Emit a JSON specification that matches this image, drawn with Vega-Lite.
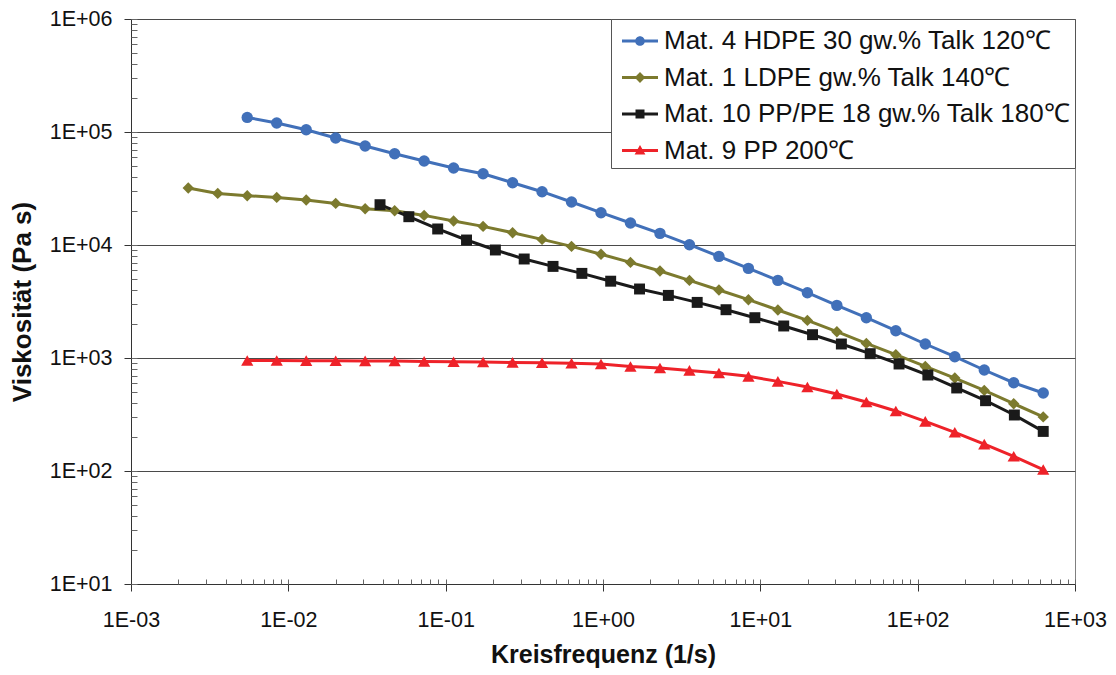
{
  "$schema": "https://vega.github.io/schema/vega-lite/v6.json",
  "width": 944,
  "height": 565,
  "autosize": {"type": "none"},
  "padding": {"left": 131, "top": 19, "right": 41, "bottom": 91},
  "background": "white",
  "config": {
    "font": "Liberation Sans",
    "view": {"stroke": "#808080", "strokeWidth": 1},
    "axis": {"labelColor": "#111", "titleColor": "#111", "domainColor": "#333", "tickColor": "#333", "labelFont": "Liberation Sans", "titleFont": "Liberation Sans"},
    "legend": {"orient": "top-right", "offset": 0, "title": null,
      "labelFontSize": 26, "labelFont": "Liberation Sans", "labelColor": "#111", "labelLimit": 600,
      "symbolSize": 1296, "rowPadding": 5.5, "padding": 4, "labelOffset": 6, "symbolOffset": 7,
      "strokeColor": "#555", "fillColor": "white"}
  },
  "data": {"values": [
    {"series": "Mat. 4 HDPE 30 gw.% Talk 120℃", "w": 0.00548, "eta": 134600},
    {"series": "Mat. 4 HDPE 30 gw.% Talk 120℃", "w": 0.008437, "eta": 120100},
    {"series": "Mat. 4 HDPE 30 gw.% Talk 120℃", "w": 0.01299, "eta": 104800},
    {"series": "Mat. 4 HDPE 30 gw.% Talk 120℃", "w": 0.02, "eta": 88500},
    {"series": "Mat. 4 HDPE 30 gw.% Talk 120℃", "w": 0.03078, "eta": 75160},
    {"series": "Mat. 4 HDPE 30 gw.% Talk 120℃", "w": 0.04739, "eta": 64270},
    {"series": "Mat. 4 HDPE 30 gw.% Talk 120℃", "w": 0.07295, "eta": 55380},
    {"series": "Mat. 4 HDPE 30 gw.% Talk 120℃", "w": 0.1123, "eta": 48030},
    {"series": "Mat. 4 HDPE 30 gw.% Talk 120℃", "w": 0.1729, "eta": 42760},
    {"series": "Mat. 4 HDPE 30 gw.% Talk 120℃", "w": 0.2662, "eta": 35590},
    {"series": "Mat. 4 HDPE 30 gw.% Talk 120℃", "w": 0.4098, "eta": 29630},
    {"series": "Mat. 4 HDPE 30 gw.% Talk 120℃", "w": 0.6308, "eta": 24020},
    {"series": "Mat. 4 HDPE 30 gw.% Talk 120℃", "w": 0.9712, "eta": 19310},
    {"series": "Mat. 4 HDPE 30 gw.% Talk 120℃", "w": 1.495, "eta": 15660},
    {"series": "Mat. 4 HDPE 30 gw.% Talk 120℃", "w": 2.302, "eta": 12670},
    {"series": "Mat. 4 HDPE 30 gw.% Talk 120℃", "w": 3.543, "eta": 10060},
    {"series": "Mat. 4 HDPE 30 gw.% Talk 120℃", "w": 5.456, "eta": 7928},
    {"series": "Mat. 4 HDPE 30 gw.% Talk 120℃", "w": 8.4, "eta": 6208},
    {"series": "Mat. 4 HDPE 30 gw.% Talk 120℃", "w": 12.93, "eta": 4862},
    {"series": "Mat. 4 HDPE 30 gw.% Talk 120℃", "w": 19.91, "eta": 3784},
    {"series": "Mat. 4 HDPE 30 gw.% Talk 120℃", "w": 30.65, "eta": 2921},
    {"series": "Mat. 4 HDPE 30 gw.% Talk 120℃", "w": 47.18, "eta": 2273},
    {"series": "Mat. 4 HDPE 30 gw.% Talk 120℃", "w": 72.63, "eta": 1744},
    {"series": "Mat. 4 HDPE 30 gw.% Talk 120℃", "w": 111.8, "eta": 1330},
    {"series": "Mat. 4 HDPE 30 gw.% Talk 120℃", "w": 172.2, "eta": 1027},
    {"series": "Mat. 4 HDPE 30 gw.% Talk 120℃", "w": 265, "eta": 783},
    {"series": "Mat. 4 HDPE 30 gw.% Talk 120℃", "w": 407.8, "eta": 604},
    {"series": "Mat. 4 HDPE 30 gw.% Talk 120℃", "w": 628.1, "eta": 490},

    {"series": "Mat. 1 LDPE gw.% Talk 140℃", "w": 0.002312, "eta": 31960},
    {"series": "Mat. 1 LDPE gw.% Talk 140℃", "w": 0.003559, "eta": 28620},
    {"series": "Mat. 1 LDPE gw.% Talk 140℃", "w": 0.00548, "eta": 27310},
    {"series": "Mat. 1 LDPE gw.% Talk 140℃", "w": 0.008437, "eta": 26380},
    {"series": "Mat. 1 LDPE gw.% Talk 140℃", "w": 0.01299, "eta": 25010},
    {"series": "Mat. 1 LDPE gw.% Talk 140℃", "w": 0.02, "eta": 23340},
    {"series": "Mat. 1 LDPE gw.% Talk 140℃", "w": 0.03078, "eta": 20950},
    {"series": "Mat. 1 LDPE gw.% Talk 140℃", "w": 0.04739, "eta": 20120},
    {"series": "Mat. 1 LDPE gw.% Talk 140℃", "w": 0.07295, "eta": 18280},
    {"series": "Mat. 1 LDPE gw.% Talk 140℃", "w": 0.1123, "eta": 16310},
    {"series": "Mat. 1 LDPE gw.% Talk 140℃", "w": 0.1729, "eta": 14610},
    {"series": "Mat. 1 LDPE gw.% Talk 140℃", "w": 0.2662, "eta": 12850},
    {"series": "Mat. 1 LDPE gw.% Talk 140℃", "w": 0.4098, "eta": 11210},
    {"series": "Mat. 1 LDPE gw.% Talk 140℃", "w": 0.6308, "eta": 9719},
    {"series": "Mat. 1 LDPE gw.% Talk 140℃", "w": 0.9712, "eta": 8290},
    {"series": "Mat. 1 LDPE gw.% Talk 140℃", "w": 1.495, "eta": 7015},
    {"series": "Mat. 1 LDPE gw.% Talk 140℃", "w": 2.302, "eta": 5888},
    {"series": "Mat. 1 LDPE gw.% Talk 140℃", "w": 3.543, "eta": 4862},
    {"series": "Mat. 1 LDPE gw.% Talk 140℃", "w": 5.456, "eta": 3998},
    {"series": "Mat. 1 LDPE gw.% Talk 140℃", "w": 8.4, "eta": 3281},
    {"series": "Mat. 1 LDPE gw.% Talk 140℃", "w": 12.93, "eta": 2659},
    {"series": "Mat. 1 LDPE gw.% Talk 140℃", "w": 19.91, "eta": 2151},
    {"series": "Mat. 1 LDPE gw.% Talk 140℃", "w": 30.65, "eta": 1709},
    {"series": "Mat. 1 LDPE gw.% Talk 140℃", "w": 47.18, "eta": 1346},
    {"series": "Mat. 1 LDPE gw.% Talk 140℃", "w": 72.63, "eta": 1070},
    {"series": "Mat. 1 LDPE gw.% Talk 140℃", "w": 111.8, "eta": 842},
    {"series": "Mat. 1 LDPE gw.% Talk 140℃", "w": 172.2, "eta": 665},
    {"series": "Mat. 1 LDPE gw.% Talk 140℃", "w": 265, "eta": 517},
    {"series": "Mat. 1 LDPE gw.% Talk 140℃", "w": 407.8, "eta": 394},
    {"series": "Mat. 1 LDPE gw.% Talk 140℃", "w": 628.1, "eta": 301},

    {"series": "Mat. 10 PP/PE 18 gw.% Talk 180℃", "w": 0.03826, "eta": 22730},
    {"series": "Mat. 10 PP/PE 18 gw.% Talk 180℃", "w": 0.05834, "eta": 17800},
    {"series": "Mat. 10 PP/PE 18 gw.% Talk 180℃", "w": 0.08898, "eta": 13860},
    {"series": "Mat. 10 PP/PE 18 gw.% Talk 180℃", "w": 0.1357, "eta": 11070},
    {"series": "Mat. 10 PP/PE 18 gw.% Talk 180℃", "w": 0.207, "eta": 9034},
    {"series": "Mat. 10 PP/PE 18 gw.% Talk 180℃", "w": 0.3156, "eta": 7518},
    {"series": "Mat. 10 PP/PE 18 gw.% Talk 180℃", "w": 0.4813, "eta": 6466},
    {"series": "Mat. 10 PP/PE 18 gw.% Talk 180℃", "w": 0.734, "eta": 5608},
    {"series": "Mat. 10 PP/PE 18 gw.% Talk 180℃", "w": 1.119, "eta": 4783},
    {"series": "Mat. 10 PP/PE 18 gw.% Talk 180℃", "w": 1.707, "eta": 4080},
    {"series": "Mat. 10 PP/PE 18 gw.% Talk 180℃", "w": 2.603, "eta": 3581},
    {"series": "Mat. 10 PP/PE 18 gw.% Talk 180℃", "w": 3.969, "eta": 3105},
    {"series": "Mat. 10 PP/PE 18 gw.% Talk 180℃", "w": 6.053, "eta": 2675},
    {"series": "Mat. 10 PP/PE 18 gw.% Talk 180℃", "w": 9.232, "eta": 2273},
    {"series": "Mat. 10 PP/PE 18 gw.% Talk 180℃", "w": 14.08, "eta": 1920},
    {"series": "Mat. 10 PP/PE 18 gw.% Talk 180℃", "w": 21.47, "eta": 1608},
    {"series": "Mat. 10 PP/PE 18 gw.% Talk 180℃", "w": 32.74, "eta": 1330},
    {"series": "Mat. 10 PP/PE 18 gw.% Talk 180℃", "w": 49.94, "eta": 1092},
    {"series": "Mat. 10 PP/PE 18 gw.% Talk 180℃", "w": 76.16, "eta": 885},
    {"series": "Mat. 10 PP/PE 18 gw.% Talk 180℃", "w": 116.1, "eta": 707},
    {"series": "Mat. 10 PP/PE 18 gw.% Talk 180℃", "w": 177.1, "eta": 543},
    {"series": "Mat. 10 PP/PE 18 gw.% Talk 180℃", "w": 270.1, "eta": 419},
    {"series": "Mat. 10 PP/PE 18 gw.% Talk 180℃", "w": 411.7, "eta": 313},
    {"series": "Mat. 10 PP/PE 18 gw.% Talk 180℃", "w": 628.1, "eta": 224},

    {"series": "Mat. 9 PP 200℃", "w": 0.00548, "eta": 950},
    {"series": "Mat. 9 PP 200℃", "w": 0.008437, "eta": 949},
    {"series": "Mat. 9 PP 200℃", "w": 0.01299, "eta": 947},
    {"series": "Mat. 9 PP 200℃", "w": 0.02, "eta": 945},
    {"series": "Mat. 9 PP 200℃", "w": 0.03078, "eta": 943},
    {"series": "Mat. 9 PP 200℃", "w": 0.04739, "eta": 941},
    {"series": "Mat. 9 PP 200℃", "w": 0.07295, "eta": 933},
    {"series": "Mat. 9 PP 200℃", "w": 0.1123, "eta": 927},
    {"series": "Mat. 9 PP 200℃", "w": 0.1729, "eta": 921},
    {"series": "Mat. 9 PP 200℃", "w": 0.2662, "eta": 914},
    {"series": "Mat. 9 PP 200℃", "w": 0.4098, "eta": 908},
    {"series": "Mat. 9 PP 200℃", "w": 0.6308, "eta": 898},
    {"series": "Mat. 9 PP 200℃", "w": 0.9712, "eta": 885},
    {"series": "Mat. 9 PP 200℃", "w": 1.495, "eta": 842},
    {"series": "Mat. 9 PP 200℃", "w": 2.302, "eta": 816},
    {"series": "Mat. 9 PP 200℃", "w": 3.543, "eta": 777},
    {"series": "Mat. 9 PP 200℃", "w": 5.456, "eta": 737},
    {"series": "Mat. 9 PP 200℃", "w": 8.4, "eta": 688},
    {"series": "Mat. 9 PP 200℃", "w": 12.93, "eta": 621},
    {"series": "Mat. 9 PP 200℃", "w": 19.91, "eta": 554},
    {"series": "Mat. 9 PP 200℃", "w": 30.65, "eta": 480},
    {"series": "Mat. 9 PP 200℃", "w": 47.18, "eta": 408},
    {"series": "Mat. 9 PP 200℃", "w": 72.63, "eta": 340},
    {"series": "Mat. 9 PP 200℃", "w": 111.8, "eta": 275},
    {"series": "Mat. 9 PP 200℃", "w": 172.2, "eta": 220},
    {"series": "Mat. 9 PP 200℃", "w": 265, "eta": 173},
    {"series": "Mat. 9 PP 200℃", "w": 407.8, "eta": 135},
    {"series": "Mat. 9 PP 200℃", "w": 628.1, "eta": 103}
  ]},
  "layer": [
    {
      "encoding": {
        "x": {"field": "w", "type": "quantitative",
          "scale": {"type": "log", "domain": [0.001, 1000], "nice": false},
          "axis": {"orient": "bottom", "values": [0.001, 0.01, 0.1, 1, 10, 100, 1000],
            "labelExpr": "'1E' + (datum.value >= 1 ? '+' : '-') + pad('' + abs(round(log(datum.value)/LN10)), 2, '0', 'left')",
            "labelFontSize": 21.5, "labelPadding": 18, "tickSize": 7, "grid": false, "labelFlush": false, "labelOverlap": false,
            "title": "Kreisfrequenz (1/s)", "titleFontSize": 25, "titleFontWeight": "bold", "titlePadding": 12}},
        "y": {"field": "eta", "type": "quantitative",
          "scale": {"type": "log", "domain": [10, 1000000], "nice": false},
          "axis": {"orient": "left", "values": [10, 100, 1000, 10000, 100000, 1000000],
            "labelExpr": "'1E' + (datum.value >= 1 ? '+' : '-') + pad('' + abs(round(log(datum.value)/LN10)), 2, '0', 'left')",
            "labelFontSize": 21.5, "labelPadding": 12, "tickSize": 7, "grid": true, "gridColor": "#4a4a4a", "gridWidth": 1, "gridOpacity": 1,
            "labelFlush": false, "labelOverlap": false,
            "title": "Viskosität (Pa s)", "titleFontSize": 26, "titleFontWeight": "bold", "titleX": -109, "titleBaseline": "middle"}},
        "color": {"field": "series", "type": "nominal",
          "scale": {"domain": ["Mat. 4 HDPE 30 gw.% Talk 120℃", "Mat. 1 LDPE gw.% Talk 140℃", "Mat. 10 PP/PE 18 gw.% Talk 180℃", "Mat. 9 PP 200℃"],
            "range": ["#4170B9", "#7C7A2E", "#1A1A1A", "#EE2229"]},
          "legend": {
            "encode": {"symbols": {"update": {
              "shape": {"signal": "['M-1,-0.08H1V0.08H-1Z M-0.27,0A0.27,0.27 0 1,1 0.27,0A0.27,0.27 0 1,1 -0.27,0Z', 'M-1,-0.08H1V0.08H-1Z M0,-0.3L0.3,0L0,0.3L-0.3,0Z', 'M-1,-0.08H1V0.08H-1Z M-0.25,-0.25H0.25V0.25H-0.25Z', 'M-1,-0.08H1V0.08H-1Z M0,-0.3L0.3,0.22H-0.3Z'][indexof(domain('color'), datum.value)]"},
              "fill": {"signal": "scale('color', datum.value)"},
              "stroke": {"value": "transparent"},
              "strokeWidth": {"value": 0},
              "opacity": {"value": 1},
              "size": {"value": 1296}
            }}}}}
      },
      "layer": [
        {"mark": {"type": "line", "strokeWidth": 3}},
        {"transform": [{"filter": "datum.series === 'Mat. 4 HDPE 30 gw.% Talk 120℃'"}],
         "mark": {"type": "point", "shape": "circle", "filled": true, "opacity": 1, "strokeWidth": 0, "size": 130}},
        {"transform": [{"filter": "datum.series === 'Mat. 1 LDPE gw.% Talk 140℃'"}],
         "mark": {"type": "point", "shape": "diamond", "filled": true, "opacity": 1, "strokeWidth": 0, "size": 130}},
        {"transform": [{"filter": "datum.series === 'Mat. 10 PP/PE 18 gw.% Talk 180℃'"}],
         "mark": {"type": "point", "shape": "square", "filled": true, "opacity": 1, "strokeWidth": 0, "size": 120}},
        {"transform": [{"filter": "datum.series === 'Mat. 9 PP 200℃'"}],
         "mark": {"type": "point", "shape": "triangle-up", "filled": true, "opacity": 1, "strokeWidth": 0, "size": 150}}
      ]
    },
    {
      "mark": {"type": "point", "opacity": 0},
      "encoding": {
        "x": {"field": "w", "type": "quantitative",
          "scale": {"type": "log", "domain": [0.001, 1000], "nice": false},
          "axis": {"orient": "bottom", "values": [0.001, 0.002, 0.003, 0.004, 0.005, 0.006, 0.007, 0.008, 0.009, 0.01, 0.02, 0.03, 0.04, 0.05, 0.06, 0.07, 0.08, 0.09, 0.1, 0.2, 0.3, 0.4, 0.5, 0.6, 0.7, 0.8, 0.9, 1, 2, 3, 4, 5, 6, 7, 8, 9, 10, 20, 30, 40, 50, 60, 70, 80, 90, 100, 200, 300, 400, 500, 600, 700, 800, 900, 1000],
            "labels": false, "tickSize": -5, "tickColor": "#666", "domain": false, "grid": false, "title": null}},
        "y": {"field": "eta", "type": "quantitative",
          "scale": {"type": "log", "domain": [10, 1000000], "nice": false},
          "axis": {"orient": "left", "values": [10, 20, 30, 40, 50, 60, 70, 80, 90, 100, 200, 300, 400, 500, 600, 700, 800, 900, 1000, 2000, 3000, 4000, 5000, 6000, 7000, 8000, 9000, 10000, 20000, 30000, 40000, 50000, 60000, 70000, 80000, 90000, 100000, 200000, 300000, 400000, 500000, 600000, 700000, 800000, 900000, 1000000],
            "labels": false, "tickSize": -6, "tickColor": "#666", "domain": false, "grid": false, "title": null}}
      }
    }
  ],
  "resolve": {"scale": {"x": "independent", "y": "independent"}, "axis": {"x": "independent", "y": "independent"}}
}
